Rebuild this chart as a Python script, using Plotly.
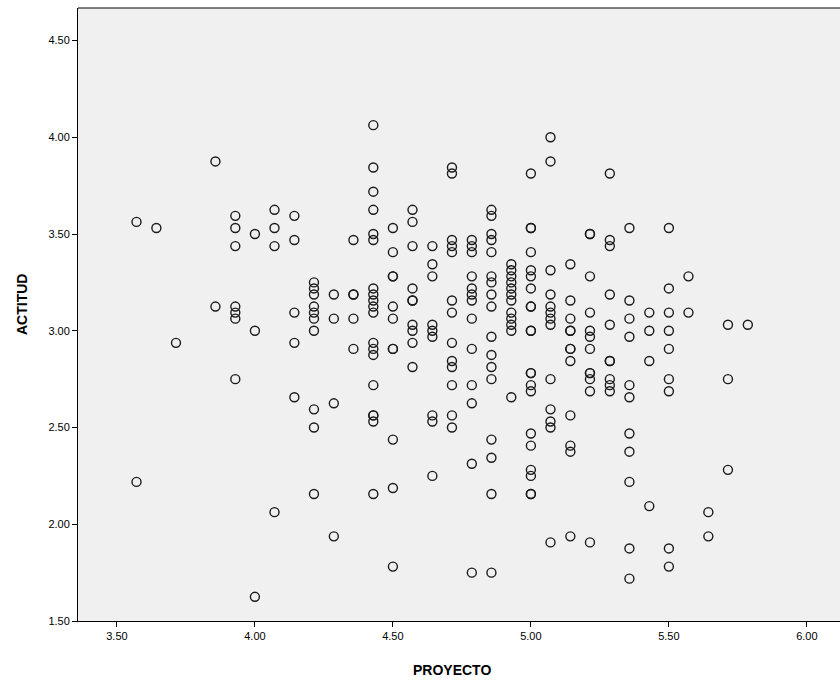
import plotly.graph_objects as go

# PROYECTO column values (multiples of 1/14) and ACTITUD values for each column
proyecto_levels = [3.571, 3.643, 3.714, 3.857, 3.929, 4.0, 4.071, 4.143, 4.214, 4.286,
                   4.357, 4.429, 4.5, 4.571, 4.643, 4.714, 4.786, 4.857, 4.929, 5.0,
                   5.071, 5.143, 5.214, 5.286, 5.357, 5.429, 5.5, 5.571, 5.643, 5.714, 5.786]

actitud_by_level = [
    [3.5625, 2.21875],
    [3.53125],
    [2.9375],
    [3.875, 3.125],
    [3.59375, 3.53125, 3.4375, 3.125, 3.09375, 3.0625, 2.75],
    [3.5, 3.0, 1.625],
    [3.625, 3.53125, 3.4375, 2.0625],
    [3.59375, 3.46875, 3.09375, 2.9375, 2.65625],
    [3.25, 3.21875, 3.1875, 3.125, 3.09375, 3.0625, 3.0, 2.59375, 2.5, 2.15625],
    [3.1875, 3.0625, 2.625, 1.9375],
    [3.46875, 3.1875, 3.1875, 3.0625, 2.90625],
    [4.0625, 3.84375, 3.71875, 3.625, 3.5, 3.46875, 3.21875, 3.1875, 3.15625, 3.125,
     3.09375, 2.9375, 2.90625, 2.875, 2.71875, 2.5625, 2.5625, 2.53125, 2.15625],
    [3.53125, 3.40625, 3.28125, 3.28125, 3.125, 3.0625, 2.90625, 2.90625, 2.4375, 2.1875, 1.78125],
    [3.625, 3.5625, 3.4375, 3.21875, 3.15625, 3.15625, 3.03125, 3.0, 2.9375, 2.8125],
    [3.4375, 3.34375, 3.28125, 3.03125, 3.0, 2.96875, 2.5625, 2.53125, 2.25],
    [3.84375, 3.8125, 3.46875, 3.4375, 3.40625, 3.15625, 3.09375, 2.9375, 2.84375, 2.8125,
     2.71875, 2.5625, 2.5],
    [3.46875, 3.4375, 3.40625, 3.28125, 3.21875, 3.1875, 3.15625, 3.0625, 2.90625, 2.71875,
     2.625, 2.3125, 1.75],
    [3.625, 3.59375, 3.5, 3.46875, 3.40625, 3.28125, 3.25, 3.1875, 3.125, 2.96875, 2.875,
     2.8125, 2.75, 2.4375, 2.34375, 2.15625, 1.75],
    [3.34375, 3.3125, 3.28125, 3.25, 3.21875, 3.1875, 3.15625, 3.09375, 3.0625, 3.03125,
     3.0, 2.65625],
    [3.8125, 3.53125, 3.53125, 3.40625, 3.3125, 3.28125, 3.21875, 3.125, 3.125, 3.0, 3.0,
     2.78125, 2.78125, 2.71875, 2.6875, 2.46875, 2.40625, 2.28125, 2.25, 2.15625, 2.15625],
    [4.0, 3.875, 3.3125, 3.1875, 3.125, 3.09375, 3.0625, 3.03125, 2.75, 2.59375, 2.53125,
     2.5, 1.90625],
    [3.34375, 3.15625, 3.0625, 3.0, 3.0, 2.90625, 2.90625, 2.84375, 2.5625, 2.40625, 2.375, 1.9375],
    [3.5, 3.5, 3.28125, 3.09375, 3.0, 2.96875, 2.90625, 2.78125, 2.78125, 2.75, 2.6875, 1.90625],
    [3.8125, 3.46875, 3.4375, 3.1875, 3.03125, 2.84375, 2.84375, 2.75, 2.71875, 2.6875],
    [3.53125, 3.15625, 3.0625, 2.96875, 2.71875, 2.65625, 2.46875, 2.375, 2.21875, 1.875, 1.71875],
    [3.09375, 3.0, 2.84375, 2.09375],
    [3.53125, 3.21875, 3.09375, 3.0, 2.90625, 2.75, 2.6875, 1.875, 1.78125],
    [3.28125, 3.09375],
    [2.0625, 1.9375],
    [3.03125, 2.75, 2.28125],
    [3.03125],
]

x_ticks = [3.5, 4.0, 4.5, 5.0, 5.5, 6.0]
y_ticks = [1.5, 2.0, 2.5, 3.0, 3.5, 4.0, 4.5]

proyecto = []
actitud = []
for lvl, vals in zip(proyecto_levels, actitud_by_level):
    for v in vals:
        proyecto.append(lvl)
        actitud.append(v)

fig = go.Figure()
fig.add_trace(go.Scatter(
    x=proyecto, y=actitud, mode="markers",
    marker=dict(symbol="circle-open", size=9, color="#1a1a1a", line=dict(width=1.4)),
    hoverinfo="x+y", showlegend=False,
))

W, H = 840, 684
L, T, B = 78, 8, 63
fig.update_layout(
    width=W, height=H,
    margin=dict(l=L, r=0, t=T, b=B),
    paper_bgcolor="white",
    plot_bgcolor="#F0F0F0",
    font=dict(family="Liberation Sans, Arial, sans-serif", size=11, color="black"),
    xaxis=dict(range=[3.359, 6.12], tickvals=x_ticks, tickformat=".2f",
               showgrid=False, zeroline=False, showline=True, linecolor="black", linewidth=1,
               ticks="outside", ticklen=5, tickcolor="black"),
    yaxis=dict(range=[1.5, 4.668], tickvals=y_ticks, tickformat=".2f",
               showgrid=False, zeroline=False, showline=True, linecolor="black", linewidth=1,
               ticks="outside", ticklen=5, tickcolor="black"),
    shapes=[dict(type="line", xref="paper", yref="paper", x0=0, x1=1, y0=1, y1=1,
                 line=dict(color="black", width=1))],
    annotations=[
        dict(text="<b>PROYECTO</b>", xref="paper", yref="paper",
             x=(452 - L) / (W - L), y=(621 - 670) / (621 - T),
             xanchor="center", yanchor="middle", showarrow=False,
             font=dict(size=14, family="Liberation Sans, Arial, sans-serif")),
        dict(text="<b>ACTITUD</b>", xref="paper", yref="paper",
             x=(22 - L) / (W - L), y=(621 - 305) / (621 - T),
             xanchor="center", yanchor="middle", showarrow=False, textangle=-90,
             font=dict(size=14, family="Liberation Sans, Arial, sans-serif")),
    ],
)

fig.write_html(
    "out.html",
    config={"displayModeBar": False},
    post_script="document.body.style.margin='0';document.body.style.overflow='hidden';",
)
